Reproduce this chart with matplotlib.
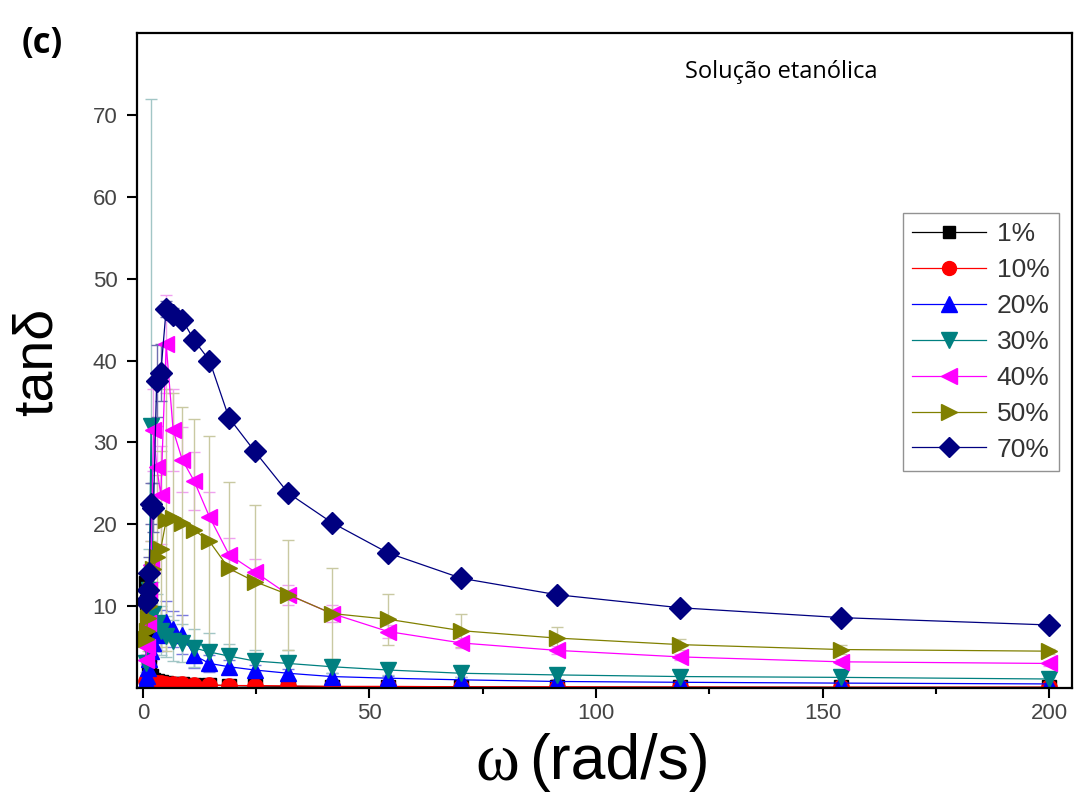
import numpy as np
import matplotlib.pyplot as plt
from matplotlib.ticker import MultipleLocator
from matplotlib.lines import Line2D

plt.rcParams['font.family'] = ['Liberation Sans', 'DejaVu Sans']

# angular frequency (rad/s)
omega = [0.64, 0.83, 1.07, 1.39, 1.81, 2.35, 3.05, 3.96, 5.15, 6.68, 8.68, 11.3,
         14.7, 19.0, 24.7, 32.1, 41.7, 54.1, 70.3, 91.3, 118.6, 154.0, 200.0]

labels = ["1%", "10%", "20%", "30%", "40%", "50%", "70%"]

tan_1 = [12.8, 10.5, 6.0, 3.0, 1.5, 1.0, 0.8, 0.7, 0.6, 0.5, 0.45, 0.4,
         0.35, 0.3, 0.25, 0.2, 0.18, 0.15, 0.12, 0.1, 0.1, 0.08, 0.08]
err_1 = [1.5, 1.2, 0.8, 0.5, 0.3, 0.2, 0.1, 0.1, 0.1, 0.1, 0.1, 0.1,
         0.1, 0.1, 0.1, 0.1, 0.1, 0.1, 0.1, 0.1, 0.1, 0.1, 0.1]

tan_10 = [0.9, 0.8, 0.8, 0.7, 0.7, 0.7, 0.6, 0.6, 0.55, 0.5, 0.45, 0.4,
          0.35, 0.3, 0.3, 0.25, 0.2, 0.2, 0.15, 0.15, 0.12, 0.1, 0.1]
err_10 = [0.3, 0.3, 0.3, 0.2, 0.2, 0.2, 0.2, 0.2, 0.2, 0.2, 0.2, 0.1,
          0.1, 0.1, 0.1, 0.1, 0.1, 0.1, 0.1, 0.1, 0.1, 0.1, 0.1]

tan_20 = [1.0, 1.5, 2.5, 3.5, 4.5, 5.5, 6.5, 7.0, 8.1, 7.2, 6.5, 4.0,
          3.0, 2.6, 2.2, 1.8, 1.4, 1.2, 1.0, 0.8, 0.7, 0.6, 0.5]
err_20 = [0.5, 0.6, 0.8, 1.0, 1.2, 1.5, 2.0, 2.5, 2.5, 2.2, 2.4, 1.5,
          1.0, 0.8, 0.6, 0.5, 0.4, 0.3, 0.3, 0.2, 0.2, 0.2, 0.2]

tan_30 = [3.0, 5.0, 8.0, 12.0, 32.0, 9.0, 8.0, 7.0, 6.3, 5.8, 5.5, 4.9,
          4.4, 3.9, 3.3, 3.0, 2.6, 2.2, 1.8, 1.6, 1.4, 1.3, 1.1]
err_30 = [1.0, 2.0, 3.0, 5.0, 40.0, 4.0, 3.5, 3.0, 2.5, 2.5, 2.3, 2.3,
          2.3, 1.5, 1.3, 1.6, 0.8, 0.6, 0.5, 0.5, 0.4, 0.4, 0.3]

tan_40 = [3.4, 5.0, 8.0, 12.0, 15.0, 31.5, 27.0, 23.6, 42.0, 31.5, 27.9, 25.3,
          20.9, 16.3, 14.2, 11.4, 9.1, 6.9, 5.5, 4.6, 3.8, 3.2, 3.0]
err_40 = [0.5, 0.8, 1.2, 2.0, 3.0, 5.0, 5.0, 6.0, 6.0, 5.0, 4.0, 3.5,
          3.0, 2.0, 1.5, 1.2, 1.0, 0.8, 0.6, 0.5, 0.4, 0.3, 0.3]

tan_50 = [6.0, 7.0, 8.5, 10.0, 12.0, 14.5, 16.0, 17.0, 20.5, 20.8, 20.1, 19.3,
          17.9, 14.6, 13.0, 11.4, 9.1, 8.4, 7.0, 6.1, 5.3, 4.7, 4.5]
err_50 = [2.0, 3.0, 4.0, 5.0, 6.0, 8.0, 10.0, 12.0, 16.0, 15.2, 14.2, 13.5,
          12.9, 10.6, 9.3, 6.7, 5.6, 3.1, 2.0, 1.4, 0.7, 0.6, 0.3]

tan_70 = [10.5, 10.8, 12.0, 14.0, 22.5, 22.0, 37.5, 38.5, 46.3, 45.6, 45.0, 42.5,
          40.0, 33.0, 28.9, 23.8, 20.2, 16.5, 13.4, 11.4, 9.8, 8.6, 7.7]
err_70 = [1.0, 1.0, 1.5, 2.0, 2.5, 3.0, 4.4, 3.5, 1.0, 0.8, 0.6, 0.5,
          0.4, 0.3, 0.3, 0.3, 0.2, 0.2, 0.2, 0.2, 0.2, 0.2, 0.2]

series = [tan_1, tan_10, tan_20, tan_30, tan_40, tan_50, tan_70]
errors = [err_1, err_10, err_20, err_30, err_40, err_50, err_70]
colors = ["#000000", "#ff0000", "#0000ff", "#008080", "#ff00ff", "#808000", "#000080"]
ecolors = ["#8a8a8a", "#f08a8a", "#7a7ae0", "#a2c6c6", "#f0a0f0", "#c9c9a2", "#7070b0"]
markers = ["s", "o", "^", "v", "<", ">", "D"]
msizes = [10, 11, 12, 12, 12, 12, 11.5]

fig = plt.figure(figsize=(10.75, 7.99), dpi=100)
ax = fig.add_axes([0.1274, 0.1389, 0.8698, 0.8198])

handles = []
for y, e, c, ec, m, ms, lab in zip(series, errors, colors, ecolors, markers, msizes, labels):
    ax.errorbar(omega, y, yerr=e, color=c, ecolor=ec, elinewidth=1.0, capsize=4,
                capthick=1.0, marker=m, markersize=ms, linewidth=0.9)
    handles.append(Line2D([], [], color=c, marker=m, markersize=ms - 1, linewidth=0.9, label=lab))

ax.set_xlim(-1.3, 205)
ax.set_ylim(0, 80)
ax.xaxis.set_major_locator(MultipleLocator(50))
ax.xaxis.set_minor_locator(MultipleLocator(25))
ax.set_yticks([10, 20, 30, 40, 50, 60, 70])
ax.tick_params(axis="both", which="major", direction="out", length=7, width=1.5,
               labelsize=16, labelcolor="#444444")
ax.tick_params(axis="y", which="major", pad=7)
ax.tick_params(axis="x", which="minor", direction="out", length=4, width=1.5)
for sp in ax.spines.values():
    sp.set_linewidth(1.6)

ax.set_ylabel("tanδ", fontsize=40)
ax.yaxis.set_label_coords(-0.078, 0.498)

fig.text(0.483, 0.025, "ω", fontsize=48, family="Liberation Serif", ha="right", va="baseline")
fig.text(0.492, 0.025, "(rad/s)", fontsize=45, ha="left", va="baseline")

fig.text(0.02, 0.945, "(c)", fontsize=25, fontweight="bold", va="center", ha="left",
         family="Open Sans")
ax.text(0.689, 0.940, "Solução etanólica", transform=ax.transAxes, fontsize=17,
        ha="center", va="center", family="Open Sans")

leg = ax.legend(handles=handles, loc="upper right", bbox_to_anchor=(1.0, 0.745), fontsize=19,
                frameon=True, fancybox=False, edgecolor="#777777", handlelength=2.8,
                labelspacing=0.45, borderpad=0.35, handletextpad=0.4)
leg.get_frame().set_linewidth(1.0)
for t in leg.get_texts():
    t.set_color("#333333")

fig.savefig("out.png", dpi=100)
